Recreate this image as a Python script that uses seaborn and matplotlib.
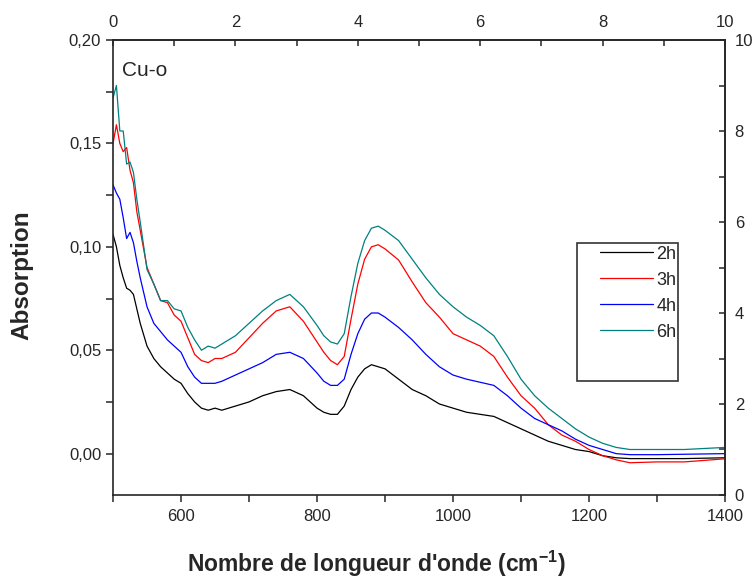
import numpy as np
import pandas as pd
import seaborn as sns
import matplotlib.pyplot as plt
from matplotlib.ticker import FixedLocator, FuncFormatter
from matplotlib.patches import Rectangle

sns.set_style('ticks')
plt.rcParams['font.family'] = ['Liberation Sans', 'DejaVu Sans']
plt.rcParams['mathtext.fontset'] = 'custom'
plt.rcParams['mathtext.rm'] = 'Liberation Sans'
plt.rcParams['mathtext.bf'] = 'Liberation Sans:bold'

# wavenumber grid (cm-1)
wavenumber = [500, 505, 510, 515, 520, 525, 530, 535, 540, 550, 560, 570, 580, 590,
              600, 610, 620, 630, 640, 650, 660, 680, 700, 720, 740, 760, 780, 800,
              810, 820, 830, 840, 850, 860, 870, 880, 890, 900, 920, 940, 960, 980,
              1000, 1020, 1040, 1060, 1080, 1100, 1120, 1140, 1160, 1180, 1200, 1220,
              1240, 1260, 1280, 1300, 1340, 1400]

abs_2h = [0.106, 0.100, 0.091, 0.085, 0.080, 0.079, 0.077, 0.070, 0.063, 0.052, 0.046, 0.042,
          0.039, 0.036, 0.034, 0.029, 0.025, 0.022, 0.021, 0.022, 0.021, 0.023, 0.025, 0.028,
          0.030, 0.031, 0.028, 0.022, 0.020, 0.019, 0.019, 0.023, 0.031, 0.037, 0.041, 0.043,
          0.042, 0.041, 0.036, 0.031, 0.028, 0.024, 0.022, 0.020, 0.019, 0.018, 0.015, 0.012,
          0.009, 0.006, 0.004, 0.002, 0.001, -0.001, -0.002, -0.0024, -0.0024, -0.0024,
          -0.0024, -0.002]

abs_3h = [0.150, 0.159, 0.150, 0.146, 0.148, 0.137, 0.131, 0.117, 0.108, 0.090, 0.082, 0.074,
          0.073, 0.067, 0.064, 0.056, 0.048, 0.045, 0.044, 0.046, 0.046, 0.049, 0.056, 0.063,
          0.069, 0.071, 0.064, 0.054, 0.049, 0.045, 0.043, 0.047, 0.065, 0.082, 0.094, 0.100,
          0.101, 0.099, 0.0936, 0.083, 0.073, 0.066, 0.058, 0.055, 0.052, 0.047, 0.037, 0.028,
          0.022, 0.014, 0.009, 0.006, 0.002, -0.001, -0.003, -0.0044, -0.0042, -0.004,
          -0.004, -0.0025]

abs_4h = [0.130, 0.126, 0.123, 0.114, 0.104, 0.107, 0.102, 0.093, 0.085, 0.071, 0.063, 0.059,
          0.055, 0.052, 0.049, 0.042, 0.037, 0.034, 0.034, 0.034, 0.035, 0.038, 0.041, 0.044,
          0.048, 0.049, 0.046, 0.039, 0.035, 0.033, 0.033, 0.036, 0.048, 0.058, 0.065, 0.068,
          0.068, 0.066, 0.061, 0.055, 0.048, 0.042, 0.038, 0.036, 0.0345, 0.033, 0.028, 0.022,
          0.017, 0.014, 0.011, 0.007, 0.004, 0.002, 0.000, -0.0005, -0.0005, -0.0005,
          -0.0003, 0.000]

abs_6h = [0.172, 0.178, 0.156, 0.156, 0.140, 0.141, 0.136, 0.123, 0.112, 0.089, 0.082, 0.074,
          0.074, 0.070, 0.069, 0.061, 0.055, 0.050, 0.052, 0.051, 0.053, 0.057, 0.063, 0.069,
          0.074, 0.077, 0.071, 0.062, 0.057, 0.054, 0.053, 0.058, 0.076, 0.092, 0.103, 0.109,
          0.110, 0.108, 0.103, 0.094, 0.085, 0.077, 0.071, 0.066, 0.062, 0.057, 0.047, 0.036,
          0.028, 0.022, 0.017, 0.012, 0.008, 0.005, 0.003, 0.002, 0.002, 0.002,
          0.002, 0.003]

labels = ['2h', '3h', '4h', '6h']
colors = ['#000000', '#ff0000', '#0000ff', '#008080']

df = pd.concat([pd.DataFrame({'x': wavenumber, 'y': v, 'temps': l})
                for v, l in zip([abs_2h, abs_3h, abs_4h, abs_6h], labels)])

fig = plt.figure(figsize=(7.55, 5.84), dpi=100)
ax = fig.add_axes([0.1497, 0.1524, 0.8106, 0.7791])

sns.lineplot(data=df, x='x', y='y', hue='temps', palette=colors, linewidth=0.9,
             estimator=None, ax=ax, legend=True)

ax.set_xlim(500, 1400)
ax.set_ylim(-0.02, 0.20)
ax.set_xticks([600, 800, 1000, 1200, 1400])
ax.xaxis.set_minor_locator(FixedLocator([500, 700, 900, 1100, 1300]))
ax.set_yticks([0.0, 0.05, 0.10, 0.15, 0.20])
ax.yaxis.set_minor_locator(FixedLocator([0.025, 0.075, 0.125, 0.175]))
ax.yaxis.set_major_formatter(FuncFormatter(lambda v, p: f'{v:.2f}'.replace('.', ',')))
ax.tick_params(which='both', direction='out', length=5, width=1.1, labelsize=12)
ax.tick_params(axis='x', pad=5)
for s in ax.spines.values():
    s.set_linewidth(1.2)

# top and right scales (0-10)
top = ax.secondary_xaxis('top', functions=(lambda x: (x - 500) / 90, lambda t: t * 90 + 500))
top.xaxis.set_major_locator(FixedLocator([0, 2, 4, 6, 8, 10]))
top.xaxis.set_minor_locator(FixedLocator([1, 3, 5, 7, 9]))
top.tick_params(which='both', direction='in', length=4, width=1.1, labelsize=12, pad=7)
right = ax.secondary_yaxis('right', functions=(lambda v: (v + 0.02) / 0.022, lambda t: t * 0.022 - 0.02))
right.yaxis.set_major_locator(FixedLocator([0, 2, 4, 6, 8, 10]))
right.yaxis.set_minor_locator(FixedLocator([1, 3, 5, 7, 9]))
right.tick_params(which='both', direction='in', length=4, width=1.1, labelsize=12, pad=7)
for a in (top, right):
    for s in a.spines.values():
        s.set_linewidth(1.2)

ax.set_xlabel("Nombre de longueur d'onde (cm$^{\\mathbf{-1}}$)", fontsize=16.5, fontweight='bold')
ax.set_ylabel('Absorption', fontsize=17.5, fontweight='bold')
ax.xaxis.set_label_coords(0.43, -0.118)
ax.yaxis.set_label_coords(-0.13, 0.483)

ax.text(0.015, 0.934, 'Cu-o', transform=ax.transAxes, fontsize=15, va='center')

handles, labs = ax.get_legend_handles_labels()
ax.legend(handles, labs, loc='upper left', bbox_to_anchor=(0.796, 0.548), frameon=False,
          fontsize=13, handlelength=2.9, handletextpad=0.2, labelspacing=0.5,
          borderpad=0, borderaxespad=0)
ax.add_patch(Rectangle((0.758, 0.2505), 0.165, 0.3035, transform=ax.transAxes,
                       fill=False, edgecolor='#333333', linewidth=1.2))

fig.savefig('out.png', dpi=100)
